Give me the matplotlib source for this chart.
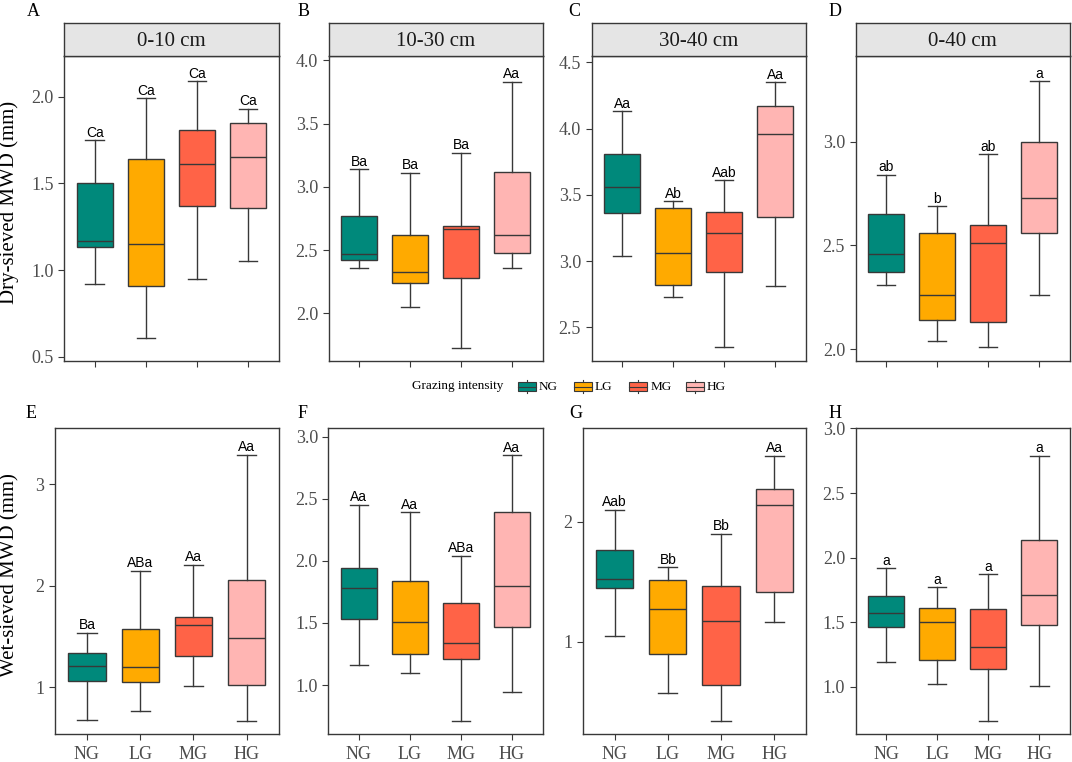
import matplotlib
matplotlib.use("Agg")
import matplotlib.pyplot as plt
from matplotlib.patches import Rectangle
from matplotlib.lines import Line2D

groups = ["NG", "LG", "MG", "HG"]
colors = ["#00897b", "#ffaa00", "#ff6347", "#ffb5b3"]

# per group: lower whisker, Q1, median, Q3, upper whisker
dry_0_10 = [[0.92, 1.13, 1.17, 1.50, 1.75], [0.61, 0.91, 1.15, 1.64, 1.99],
            [0.95, 1.37, 1.61, 1.81, 2.09], [1.05, 1.36, 1.65, 1.85, 1.93]]
dry_10_30 = [[2.36, 2.42, 2.47, 2.77, 3.14], [2.05, 2.24, 2.33, 2.62, 3.11],
             [1.73, 2.28, 2.67, 2.69, 3.27], [2.36, 2.48, 2.62, 3.12, 3.83]]
dry_30_40 = [[3.04, 3.36, 3.56, 3.81, 4.13], [2.73, 2.82, 3.06, 3.40, 3.45],
             [2.35, 2.92, 3.21, 3.37, 3.61], [2.81, 3.33, 3.96, 4.17, 4.35]]
dry_0_40 = [[2.31, 2.37, 2.46, 2.65, 2.84], [2.04, 2.14, 2.26, 2.56, 2.69],
            [2.01, 2.13, 2.51, 2.60, 2.94], [2.26, 2.56, 2.73, 3.00, 3.29]]
wet_0_10 = [[0.68, 1.06, 1.21, 1.34, 1.54], [0.77, 1.05, 1.20, 1.57, 2.15],
            [1.01, 1.31, 1.61, 1.69, 2.21], [0.67, 1.02, 1.49, 2.06, 3.29]]
wet_10_30 = [[1.16, 1.53, 1.78, 1.94, 2.45], [1.10, 1.25, 1.51, 1.84, 2.39],
             [0.71, 1.21, 1.34, 1.66, 2.04], [0.94, 1.47, 1.80, 2.39, 2.85]]
wet_30_40 = [[1.05, 1.45, 1.52, 1.76, 2.10], [0.57, 0.90, 1.27, 1.51, 1.62],
             [0.34, 0.64, 1.17, 1.46, 1.90], [1.16, 1.41, 2.14, 2.27, 2.55]]
wet_0_40 = [[1.19, 1.46, 1.57, 1.70, 1.92], [1.02, 1.21, 1.50, 1.61, 1.77],
            [0.74, 1.14, 1.31, 1.60, 1.87], [1.01, 1.48, 1.71, 2.14, 2.79]]

dry_0_10_sig = ["Ca", "Ca", "Ca", "Ca"]
dry_10_30_sig = ["Ba", "Ba", "Ba", "Aa"]
dry_30_40_sig = ["Aa", "Ab", "Aab", "Aa"]
dry_0_40_sig = ["ab", "b", "ab", "a"]
wet_0_10_sig = ["Ba", "ABa", "Aa", "Aa"]
wet_10_30_sig = ["Aa", "Aa", "ABa", "Aa"]
wet_30_40_sig = ["Aab", "Bb", "Bb", "Aa"]
wet_0_40_sig = ["a", "a", "a", "a"]

depths = ["0-10 cm", "10-30 cm", "30-40 cm", "0-40 cm"]

W, H = 1072, 762
serif = ["Liberation Serif", "DejaVu Serif"]
sans = ["Liberation Sans", "DejaVu Sans"]
plt.rcParams["font.family"] = serif

fig = plt.figure(figsize=(W / 100, H / 100), dpi=100)


def px_axes(l, r, t, b):
    return fig.add_axes([l / W, 1 - b / H, (r - l) / W, (b - t) / H])


# panel letter, data, sig, strip, (left, right, top, bottom), ylim, yticks, fmt, letter x
panels = [
    ("A", dry_0_10, dry_0_10_sig, depths[0], (64, 278.5, 56, 361), (0.475, 2.235), [0.5, 1.0, 1.5, 2.0], "%.1f", 27),
    ("B", dry_10_30, dry_10_30_sig, depths[1], (328.5, 542.5, 56, 361), (1.624, 4.034), [2.0, 2.5, 3.0, 3.5, 4.0], "%.1f", 298),
    ("C", dry_30_40, dry_30_40_sig, depths[2], (591.5, 806, 56, 361), (2.246, 4.548), [2.5, 3.0, 3.5, 4.0, 4.5], "%.1f", 568),
    ("D", dry_0_40, dry_0_40_sig, depths[3], (855.5, 1070, 56, 361), (1.944, 3.412), [2.0, 2.5, 3.0], "%.1f", 829),
    ("E", wet_0_10, wet_0_10_sig, None, (55, 278.5, 427.7, 734.3), (0.537, 3.558), [1, 2, 3], "%d", 26),
    ("F", wet_10_30, wet_10_30_sig, None, (328.3, 542.5, 427.7, 734.3), (0.603, 3.072), [1.0, 1.5, 2.0, 2.5, 3.0], "%.1f", 298),
    ("G", wet_30_40, wet_30_40_sig, None, (582.8, 806, 427.7, 734.3), (0.228, 2.783), [1, 2], "%d", 569),
    ("H", wet_0_40, wet_0_40_sig, None, (855.5, 1070, 427.7, 734.3), (0.634, 3.005), [1.0, 1.5, 2.0, 2.5, 3.0], "%.1f", 829),
]

edge = "#383838"
positions = [1, 2, 3, 4]

for letter, data, sig, strip, (l, r, t, b), ylim, yticks, fmt, lx in panels:
    ax = px_axes(l, r, t, b)
    stats = [dict(whislo=d[0], q1=d[1], med=d[2], q3=d[3], whishi=d[4], fliers=[]) for d in data]
    bp = ax.bxp(stats, positions=positions, widths=0.7, capwidths=0.36, patch_artist=True,
                showfliers=False, manage_ticks=False,
                boxprops=dict(edgecolor=edge, linewidth=1.0),
                medianprops=dict(color=edge, linewidth=1.0),
                whiskerprops=dict(color=edge, linewidth=1.0),
                capprops=dict(color=edge, linewidth=1.0))
    for patch, c in zip(bp["boxes"], colors):
        patch.set_facecolor(c)
    for x, d, s in zip(positions, data, sig):
        ax.annotate(s, (x, d[4]), xytext=(0, 2.5), textcoords="offset points",
                    ha="center", va="baseline", fontsize=10, family=sans, color="black")
    ax.set_xlim(0.4, 4.6)
    ax.set_ylim(*ylim)
    ax.set_yticks(yticks)
    ax.set_yticklabels([fmt % v for v in yticks])
    ax.set_xticks(positions)
    top_row = strip is not None
    ax.set_xticklabels([] if top_row else groups)
    ax.tick_params(direction="out", length=4.5, width=0.8, color=edge,
                   labelcolor="#4d4d4d", labelsize=13)
    ax.tick_params(axis="y", pad=3)
    ax.tick_params(axis="x", pad=4)
    for sp in ax.spines.values():
        sp.set_color(edge)
        sp.set_linewidth(1.0)

    if top_row:
        sax = px_axes(l, r, 22.7, 56)
        sax.set_facecolor("#e5e5e5")
        sax.set_xticks([])
        sax.set_yticks([])
        for sp in sax.spines.values():
            sp.set_color(edge)
            sp.set_linewidth(1.0)
        sax.text(0.5, 0.45, strip, ha="center", va="center", fontsize=15,
                 transform=sax.transAxes, color="#1a1a1a")
        ly = 16
    else:
        ly = 417.5
    fig.text(lx / W, 1 - ly / H, letter, fontsize=13, ha="left", va="baseline")

fig.text(9.5 / W, 1 - 202 / H, "Dry-sieved MWD (mm)", rotation=90, fontsize=15,
         ha="center", va="center")
fig.text(9.5 / W, 1 - 575.5 / H, "Wet-sieved MWD (mm)", rotation=90, fontsize=15,
         ha="center", va="center")

# legend for grazing intensity
ly = 386.5
fig.text(412 / W, 1 - ly / H, "Grazing intensity", fontsize=9.5, ha="left", va="center")
key_x = [517.7, 573.7, 629.3, 685.7]
for kx, c, g in zip(key_x, colors, groups):
    fig.add_artist(Rectangle((kx / W, 1 - 391 / H), 18 / W, 9 / H, facecolor=c,
                             edgecolor=edge, linewidth=0.8, transform=fig.transFigure))
    fig.add_artist(Line2D([kx / W, (kx + 18) / W], [1 - ly / H, 1 - ly / H], color=edge,
                          linewidth=0.8, transform=fig.transFigure))
    cx = (kx + 9) / W
    fig.add_artist(Line2D([cx, cx], [1 - 380.5 / H, 1 - 382 / H], color=edge,
                          linewidth=0.8, transform=fig.transFigure))
    fig.add_artist(Line2D([cx, cx], [1 - 391 / H, 1 - 392.5 / H], color=edge,
                          linewidth=0.8, transform=fig.transFigure))
    fig.text((kx + 21) / W, 1 - ly / H, g, fontsize=9.5, ha="left", va="center")

fig.savefig("out.png", dpi=100)
